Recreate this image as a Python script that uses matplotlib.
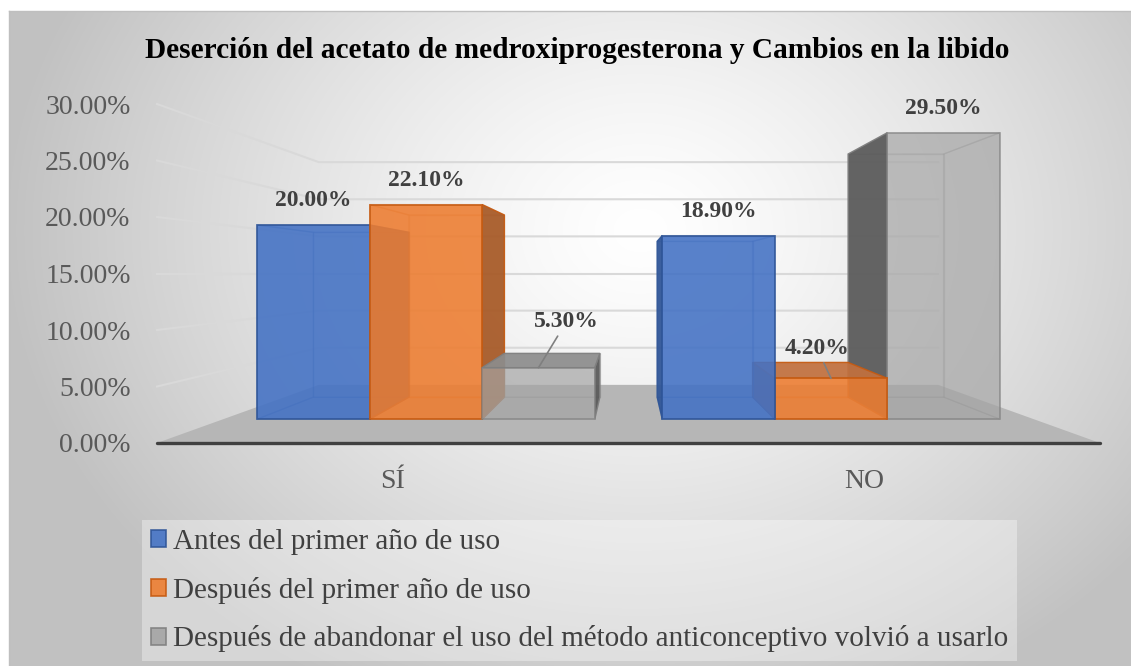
import matplotlib.pyplot as plt
import numpy as np
from matplotlib.patches import Polygon, Patch

categories = ['SÍ', 'NO']
series = ['Antes del primer año de uso',
          'Después del primer año de uso',
          'Después de abandonar el uso del método anticonceptivo volvió a usarlo']
antes = [20.0, 18.9]
despues = [22.1, 4.2]
volvio = [5.3, 29.5]
yticks = [0, 5, 10, 15, 20, 25, 30]
title = 'Deserción del acetato de medroxiprogesterona y Cambios en la libido'

plt.rcParams['font.family'] = ['Liberation Serif', 'DejaVu Serif']

# colours of the 3d boxes (front, visible side, visible top, edge)
base = ['#4472C4', '#ED7D31', '#A5A5A5']
side = ['#2F5597', '#A65A28', '#595959']
top_c = ['#3A63AD', '#C0703F', '#8C8C8C']
edge = ['#2F5597', '#C55A11', '#7F7F7F']
alpha_front = [0.85, 0.85, 0.6]

# fake perspective: vanishing point in data units, depth scale factors
VX, VY = 1.0, 15.0
S_WALL, S_FRONT, S_BACK = 0.657, 0.859, 0.729
BAR_W = 1 / 3.6


def proj(x, y, s):
    return VX + s * (x - VX), VY + s * (y - VY)


def quad(pts):
    return np.array([proj(*p) for p in pts])


W, H = 1131, 666
fig = plt.figure(figsize=(W / 100, H / 100), dpi=100)

# background with a soft radial gradient
bg = fig.add_axes([0, 0, 1, 1])
yy, xx = np.mgrid[0:H, 0:W]
t = np.sqrt(((xx - 640) / 640.0) ** 2 + ((yy - 230) / 520.0) ** 2)
shade = (255 - 62 * np.clip(t, 0, 1) ** 1.3) / 255.0
img = np.dstack([shade] * 3)
img[:11, :] = 1
img[:, :9] = 1
bg.imshow(img, extent=[0, W, H, 0], aspect='auto', interpolation='bilinear')
bg.plot([9, W], [11, 11], color='#BFBFBF', lw=1)
bg.plot([9, 9], [11, H], color='#BFBFBF', lw=1)
bg.set_xlim(0, W)
bg.set_ylim(H, 0)
bg.axis('off')

ax = fig.add_axes([157 / W, (H - 443) / H, 943 / W, 339 / H])
ax.set_xlim(0, 2)
ax.set_ylim(0, 30)
ax.patch.set_visible(False)
for sp in ax.spines.values():
    sp.set_visible(False)

# walls: left wall + back wall gridlines
for v in yticks[1:]:
    p1 = proj(0, v, S_WALL)
    p2 = proj(2, v, S_WALL)
    ax.plot([0, p1[0], p2[0]], [v, p1[1], p2[1]], color='#D9D9D9', lw=1.5,
            zorder=1, clip_on=False)

# floor
floor = quad([(0, 0, 1), (2, 0, 1), (2, 0, S_WALL), (0, 0, S_WALL)])
ax.add_patch(Polygon(floor, closed=True, facecolor='#B6B6B6', edgecolor='none',
                     zorder=1.5, clip_on=False))
ax.plot([0, 2], [0, 0], color='#404040', lw=2.4, solid_capstyle='round',
        zorder=2, clip_on=False)


def draw_box(x0, x1, v, j, z):
    f, b = S_FRONT, S_BACK
    front = quad([(x0, 0, f), (x1, 0, f), (x1, v, f), (x0, v, f)])
    back = quad([(x0, 0, b), (x1, 0, b), (x1, v, b), (x0, v, b)])
    left = quad([(x0, 0, f), (x0, v, f), (x0, v, b), (x0, 0, b)])
    right = quad([(x1, 0, f), (x1, v, f), (x1, v, b), (x1, 0, b)])
    top = quad([(x0, v, f), (x1, v, f), (x1, v, b), (x0, v, b)])
    bottom = quad([(x0, 0, f), (x1, 0, f), (x1, 0, b), (x0, 0, b)])
    hidden = [back, bottom]
    shown_sides = []
    (shown_sides if x0 > VX else hidden).append(left)
    (shown_sides if x1 < VX else hidden).append(right)
    shown_top = []
    (shown_top if v < VY else hidden).append(top)
    for poly in hidden:
        ax.add_patch(Polygon(poly, facecolor=base[j], alpha=0.25,
                             edgecolor=edge[j], lw=1, zorder=z, clip_on=False))
    for poly in shown_sides:
        ax.add_patch(Polygon(poly, facecolor=side[j], alpha=0.92,
                             edgecolor=edge[j], lw=1, zorder=z + 0.1, clip_on=False))
    for poly in shown_top:
        ax.add_patch(Polygon(poly, facecolor=top_c[j], alpha=0.9,
                             edgecolor=edge[j], lw=1, zorder=z + 0.1, clip_on=False))
    ax.add_patch(Polygon(front, facecolor=base[j], alpha=alpha_front[j],
                         edgecolor=edge[j], lw=1.3, zorder=z + 0.2, clip_on=False))


values = [antes, despues, volvio]
boxes = []
for i in range(len(categories)):
    for j in range(len(series)):
        x0 = i + 0.3 * BAR_W + j * BAR_W
        boxes.append((abs(x0 + BAR_W / 2 - VX), i, j, x0, values[j][i]))
boxes.sort(key=lambda b: -b[0])

for k, (_, i, j, x0, v) in enumerate(boxes):
    draw_box(x0, x0 + BAR_W, v, j, 3 + k)

# data labels (a couple of them moved aside with leader lines, like in the source)
label_off = {(0, 2): (28, 46), (1, 1): (-14, 30)}
for i in range(len(categories)):
    for j in range(len(series)):
        v = values[j][i]
        xc = i + 0.3 * BAR_W + (j + 0.5) * BAR_W
        off = label_off.get((i, j), (0, 24))
        arrow = None
        if (i, j) in label_off:
            arrow = dict(arrowstyle='-', color='#7F7F7F', lw=1.2, shrinkA=1, shrinkB=0)
        ax.annotate(f'{v:.2f}%', xy=proj(xc, v, S_FRONT), xytext=off,
                    textcoords='offset pixels', ha='center', va='center',
                    fontsize=17, fontweight='bold', color='#404040',
                    arrowprops=arrow, zorder=20, annotation_clip=False)

ax.set_yticks(yticks)
ax.set_yticklabels([f'{v:.2f}%' for v in yticks], fontsize=20, color='#595959')
ax.set_xticks([0.5, 1.5])
ax.set_xticklabels(categories, fontsize=20, color='#595959')
ax.tick_params(axis='y', length=0, pad=19)
ax.tick_params(axis='x', length=0, pad=19)

fig.text(577 / W, 1 - 51 / H, title, ha='center', va='center', fontsize=21.2,
         fontweight='bold', color='#000000')

handles = [Patch(facecolor=base[j], edgecolor=edge[j], alpha=0.9, lw=1.2)
           for j in range(len(series))]
leg = fig.legend(handles, series, loc='upper left',
                 bbox_to_anchor=(142 / W, 1 - 520 / H), fontsize=21,
                 frameon=True, fancybox=False, framealpha=0.35,
                 facecolor='white', edgecolor='none', borderpad=0.3,
                 labelspacing=0.75, handlelength=0.52, handleheight=0.52,
                 handletextpad=0.25, borderaxespad=0)
for txt in leg.get_texts():
    txt.set_color('#404040')

fig.savefig('out.png', dpi=100)
